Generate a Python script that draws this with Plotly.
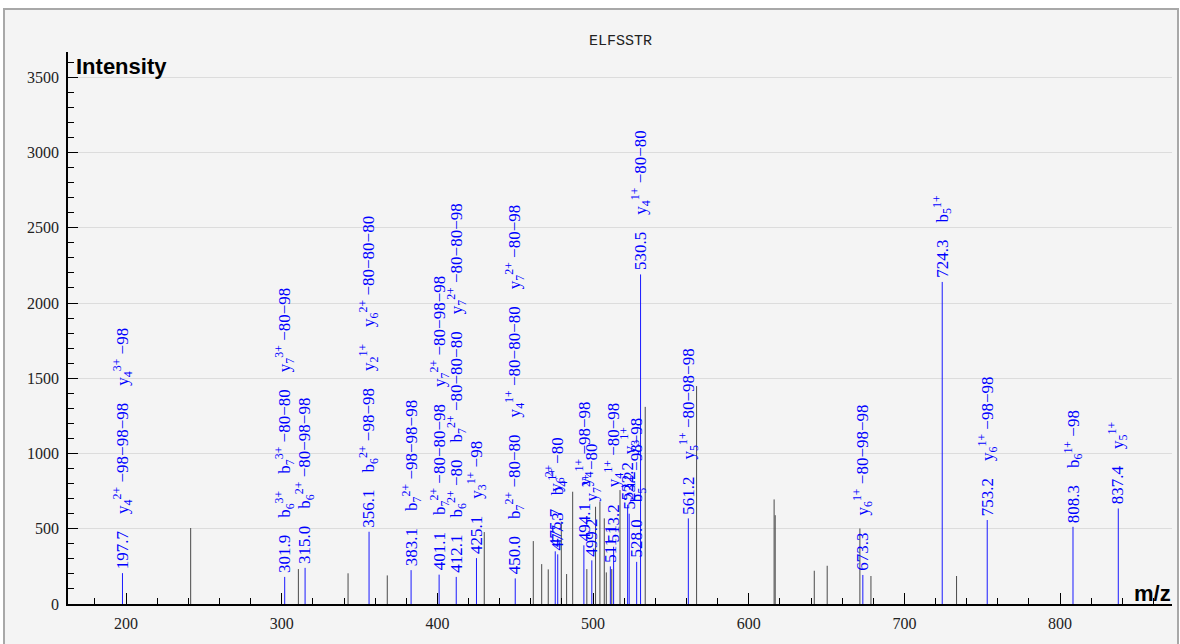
import plotly.graph_objects as go

# ---------------- data ----------------
title_text = "ELFSSTR"

# annotated (blue) peaks
ann_mz = [197.7, 301.9, 315.0, 356.1, 383.1, 401.1, 412.1, 425.1, 450.0,
          475.7, 477.3, 494.1, 499.2, 511.1, 513.2, 522.2, 523.2, 528.0,
          530.5, 561.2, 673.3, 724.3, 753.2, 808.3, 837.4]
ann_int = [205, 180, 240, 480, 225, 195, 180, 305, 170,
           350, 330, 390, 290, 250, 380, 660, 600, 280,
           2190, 569, 193, 2140, 558, 513, 635]
ann_labels = [
    ["y<sub>4</sub><sup>2+</sup> −98−98−98", "y<sub>4</sub><sup>3+</sup> −98"],
    ["b<sub>6</sub><sup>3+</sup>", "b<sub>7</sub><sup>3+</sup> −80−80", "y<sub>7</sub><sup>3+</sup> −80−98"],
    ["b<sub>6</sub><sup>2+</sup> −80−98−98"],
    ["b<sub>6</sub><sup>2+</sup> −98−98", "y<sub>2</sub><sup>1+</sup>", "y<sub>6</sub><sup>2+</sup> −80−80−80"],
    ["b<sub>7</sub><sup>2+</sup> −98−98−98"],
    ["b<sub>7</sub><sup>2+</sup> −80−80−98", "y<sub>7</sub><sup>2+</sup> −80−98−98"],
    ["b<sub>6</sub><sup>2+</sup> −80", "b<sub>7</sub><sup>2+</sup> −80−80−80", "y<sub>7</sub><sup>2+</sup> −80−80−98"],
    ["y<sub>3</sub><sup>1+</sup> −98"],
    ["b<sub>7</sub><sup>2+</sup> −80−80", "y<sub>4</sub><sup>1+</sup> −80−80−80", "y<sub>7</sub><sup>2+</sup> −80−98"],
    ["y<sub>6</sub><sup>2+</sup>"],
    ["b<sub>4</sub><sup>1+</sup> −80"],
    ["y<sub>4</sub><sup>1+</sup> −98−98"],
    ["y<sub>7</sub><sup>2+</sup> −80"],
    [],
    ["y<sub>4</sub><sup>1+</sup> −80−98"],
    [],
    ["y<sub>3</sub><sup>1+</sup>"],
    ["b<sub>5</sub><sup>1+</sup> −98−98"],
    ["y<sub>4</sub><sup>1+</sup> −80−80"],
    ["y<sub>5</sub><sup>1+</sup> −80−98−98"],
    ["y<sub>6</sub><sup>1+</sup> −80−98−98"],
    ["b<sub>5</sub><sup>1+</sup>"],
    ["y<sub>6</sub><sup>1+</sup> −98−98"],
    ["b<sub>6</sub><sup>1+</sup> −98"],
    ["y<sub>5</sub><sup>1+</sup>"],
]

# unannotated (gray) peaks
raw_mz = [241.5, 310.7, 342.6, 367.8, 430.1, 461.6, 467.0, 471.2, 479.6,
          483.0, 486.9, 496.0, 501.6, 504.4, 507.2, 508.5, 512.0, 517.3,
          533.5, 566.5, 616.3, 617.0, 642.1, 650.4, 671.4, 678.5, 733.5]
raw_int = [505, 232, 204, 190, 478, 418, 265, 230, 547,
           199, 746, 232, 646, 680, 569, 210, 232, 757,
           1310, 1448, 695, 590, 221, 254, 502, 186, 186]

x_range = [162.7, 871.9]
y_range = [0, 3668]
y_ticks = [0, 500, 1000, 1500, 2000, 2500, 3000, 3500]
x_ticks = [200, 300, 400, 500, 600, 700, 800]

# ---------------- figure ----------------
W, H = 1180, 644
L, R, T, B = 68, 8, 52, 40
pw, ph = W - L - R, H - T - B


def px_to_paper(px, py):
    return (px - L) / pw, (H - B - py) / ph


def sticks(xs, ys):
    X, Y = [], []
    for x, y in zip(xs, ys):
        X += [x, x, None]
        Y += [0, y, None]
    return X, Y


fig = go.Figure()
gx, gy = sticks(raw_mz, raw_int)
fig.add_trace(go.Scatter(x=gx, y=gy, mode="lines",
                         line=dict(color="#4a4a4a", width=1),
                         hoverinfo="skip", showlegend=False))
bx, by = sticks(ann_mz, ann_int)
fig.add_trace(go.Scatter(x=bx, y=by, mode="lines",
                         line=dict(color="#1a1aff", width=1),
                         hoverinfo="skip", showlegend=False))

gap = "\u2003"
for mz, inten, labs in zip(ann_mz, ann_int, ann_labels):
    text = gap.join([f"{mz:.1f}"] + labs)
    fig.add_annotation(x=mz, y=inten, text=text, textangle=-90,
                       showarrow=False, xanchor="center", yanchor="bottom",
                       yshift=2,
                       font=dict(family="Liberation Serif", size=17, color="#0000ff"))

# panel background with border
x0, y0 = px_to_paper(4, 9)
x1, y1 = px_to_paper(1178, 660)
fig.add_shape(type="rect", xref="paper", yref="paper", x0=x0, y0=y1, x1=x1, y1=y0,
              fillcolor="#f4f4f4", line=dict(color="#a8a8a8", width=2), layer="below")

# axis titles
ix, iy = px_to_paper(74, 66)
fig.add_annotation(xref="paper", yref="paper", x=ix, y=iy, text="<b>Intensity</b>",
                   showarrow=False, xanchor="left", yanchor="middle",
                   font=dict(family="Liberation Sans", size=22, color="black"))
mx, my = px_to_paper(1173, 593)
fig.add_annotation(xref="paper", yref="paper", x=mx, y=my, text="<b>m/z</b>",
                   showarrow=False, xanchor="right", yanchor="middle",
                   font=dict(family="Liberation Sans", size=22, color="black"))
tx, ty = px_to_paper(620, 41)
fig.add_annotation(xref="paper", yref="paper", x=tx, y=ty, text=title_text,
                   showarrow=False, xanchor="center", yanchor="middle",
                   font=dict(family="Liberation Mono", size=15, color="#222222"))

fig.update_layout(
    width=W, height=H,
    margin=dict(l=L, r=R, t=T, b=B, pad=0),
    paper_bgcolor="white",
    plot_bgcolor="rgba(0,0,0,0)",
    showlegend=False,
    xaxis=dict(range=x_range, tickvals=x_ticks, ticks="inside", ticklen=11,
               tickcolor="black", tickwidth=1, showgrid=False, zeroline=False,
               showline=True, linecolor="black", linewidth=1.5,
               tickfont=dict(family="Liberation Serif", size=16, color="#222222"),
               ticklabelstandoff=4,
               minor=dict(dtick=20, tick0=0, ticks="inside", ticklen=6,
                          tickcolor="black", showgrid=False)),
    yaxis=dict(range=y_range, tickvals=y_ticks, ticks="inside", ticklen=10,
               tickcolor="black", tickwidth=1, showgrid=True, gridcolor="#dcdcdc",
               gridwidth=1, zeroline=False, showline=True, linecolor="black",
               linewidth=1.5,
               tickfont=dict(family="Liberation Serif", size=16, color="#222222"),
               ticklabelstandoff=4,
               minor=dict(dtick=100, tick0=0, ticks="inside", ticklen=6,
                          tickcolor="black", showgrid=False)),
)

fig.write_html("out.html", config={"displayModeBar": False},
               post_script="document.body.style.margin='0';document.body.style.overflow='hidden';")
